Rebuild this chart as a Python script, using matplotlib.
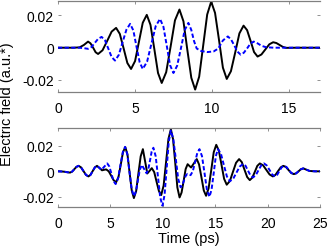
import matplotlib
matplotlib.use('Agg')
import matplotlib.pyplot as plt

plt.rcParams['font.family'] = ['Liberation Sans', 'DejaVu Sans']
plt.rcParams['axes.unicode_minus'] = False

# Top panel, values (time in ps, field in a.u.)
t_top_black = [0, 1.0, 1.4, 1.68, 1.95, 2.11, 2.28, 2.44, 2.6, 2.89, 3.19, 3.48, 3.77,
               4.01, 4.26, 4.5, 4.74, 5.0, 5.25, 5.5, 5.76, 6.0, 6.25, 6.49, 6.73,
               7.02, 7.31, 7.59, 7.88, 8.14, 8.39, 8.65, 8.9, 9.16, 9.42, 9.68, 9.94,
               10.19, 10.45, 10.7, 10.95, 11.22, 11.5, 11.77, 12.04, 12.27, 12.5, 12.72,
               12.95, 13.2, 13.46, 13.71, 13.96, 14.17, 14.38, 14.59, 14.8, 15.5, 17]
e_top_black = [0, 0, 0.0002, 0.0017, 0.0038, 0.0027, 0.0, -0.0028, -0.0039, -0.0016, 0.0042,
               0.0100, 0.0123, 0.0086, -0.0005, -0.0095, -0.0132, -0.0083, 0.0036, 0.0155,
               0.0204, 0.0142, -0.0008, -0.0157, -0.0219, -0.0152, 0.0009, 0.0170, 0.0237,
               0.0164, -0.0012, -0.0187, -0.0260, -0.0180, 0.0013, 0.0206, 0.0286, 0.0216,
               0.0046, -0.0124, -0.0194, -0.0146, -0.0029, 0.0089, 0.0137, 0.0109, 0.0041,
               -0.0027, -0.0055, -0.0042, -0.0010, 0.0021, 0.0034, 0.0029, 0.0017, 0.0005,
               -0.0001, 0, 0]

t_top_blue = [0, 1.4, 1.7, 1.95, 2.17, 2.39, 2.61, 2.83, 3.05, 3.27, 3.48, 3.7, 3.95, 4.19,
              4.44, 4.68, 4.89, 5.09, 5.3, 5.5, 5.78, 6.06, 6.34, 6.62, 6.84, 7.06, 7.27,
              7.49, 7.73, 7.98, 8.22, 8.46, 8.65, 8.83, 9.0, 9.3, 9.7, 10.1, 10.4, 10.7,
              11.02, 11.23, 11.44, 11.64, 11.85, 12.06, 12.28, 12.49, 12.7, 12.95, 13.2,
              13.5, 14, 17]
e_top_blue = [0, 0, -0.0003, -0.0007, 0.0004, 0.0030, 0.0056, 0.0067, 0.0046, -0.0007,
              -0.0058, -0.0080, -0.0044, 0.0034, 0.0112, 0.0148, 0.0107, 0.0008, -0.0091,
              -0.0132, -0.0087, 0.0024, 0.0134, 0.0179, 0.0130, 0.0011, -0.0108, -0.0157,
              -0.0112, -0.0002, 0.0109, 0.0154, 0.0110, 0.0040, -0.0005, -0.0021, -0.0027,
              -0.0023, -0.0005, 0.0045, 0.0070, 0.0051, 0.0014, -0.0024, -0.0043, -0.0031,
              -0.0003, 0.0026, 0.0038, 0.0027, 0.0012, 0.0003, 0, 0]

# Bottom panel
t_bot_black = [0, 0.3, 0.6, 0.88, 1.15, 1.35, 1.56, 1.76, 1.96, 2.2, 2.43, 2.67, 2.9, 3.1,
               3.31, 3.52, 3.72, 3.96, 4.2, 4.4, 4.6, 4.84, 5.08, 5.31, 5.55, 5.77, 5.99,
               6.2, 6.42, 6.63, 6.83, 7.04, 7.24, 7.46, 7.67, 7.89, 8.1, 8.31, 8.52, 8.74,
               8.95, 9.18, 9.4, 9.63, 9.85, 10.08, 10.31, 10.54, 10.77, 10.98, 11.19, 11.39,
               11.6, 11.79, 11.99, 12.18, 12.37, 12.53, 12.7, 12.97, 13.24, 13.46, 13.69,
               13.91, 14.13, 14.37, 14.62, 14.86, 15.1, 15.35, 15.6, 15.85, 16.1, 16.4,
               16.69, 16.99, 17.28, 17.54, 17.79, 18.05, 18.3, 18.54, 18.78, 19.02, 19.26,
               19.57, 19.88, 20.19, 20.5, 20.75, 21.0, 21.25, 21.5, 21.75, 22.0, 22.25,
               22.5, 22.72, 22.95, 23.17, 23.4, 23.7, 24.0, 24.5, 25]
e_bot_black = [0, -0.0001, -0.0003, -0.0007, -0.0010, -0.0002, 0.0017, 0.0035, 0.0043,
               0.0031, 0.0002, -0.0028, -0.0040, -0.0028, 0.0002, 0.0031, 0.0043, 0.0026,
               0.0008, 0.0012, 0.0015, 0.0, -0.0035, -0.0070, -0.0085, -0.0045, 0.0053,
               0.0150, 0.0190, 0.0132, -0.0010, -0.0152, -0.0210, -0.0154, -0.0018, 0.0118,
               0.0174, 0.0079, -0.0017, 0.0004, 0.0025, -0.0006, -0.0080, -0.0155, -0.0186,
               -0.0111, 0.0072, 0.0255, 0.0330, 0.0252, 0.0063, -0.0127, -0.0205, -0.0167,
               -0.0075, 0.0018, 0.0056, 0.0043, 0.0030, 0.0063, 0.0096, 0.0054, -0.0048,
               -0.0150, -0.0192, -0.0134, 0.0008, 0.0150, 0.0208, 0.0162, 0.0052, -0.0059,
               -0.0105, -0.0076, -0.0005, 0.0067, 0.0096, 0.0072, 0.0014, -0.0045, -0.0069,
               -0.0050, -0.0004, 0.0043, 0.0062, 0.0047, 0.0011, -0.0025, -0.0040, -0.0028,
               0.0002, 0.0031, 0.0043, 0.0034, 0.0010, -0.0013, -0.0022, -0.0016, 0.0,
               0.0016, 0.0023, 0.0013, 0.0003, 0, 0]

t_bot_blue = [0, 0.3, 0.6, 0.88, 1.15, 1.35, 1.56, 1.76, 1.96, 2.2, 2.43, 2.67, 2.9, 3.1,
              3.31, 3.52, 3.72, 3.94, 4.15, 4.42, 4.7, 4.9, 5.1, 5.3, 5.5, 5.73, 5.95,
              6.18, 6.4, 6.61, 6.82, 7.03, 7.24, 7.43, 7.62, 7.81, 8.0, 8.22, 8.45, 8.61,
              8.78, 8.94, 9.1, 9.32, 9.54, 9.75, 9.97, 10.17, 10.37, 10.57, 10.77, 11.0,
              11.24, 11.47, 11.7, 11.86, 12.02, 12.19, 12.35, 12.65, 12.86, 13.08, 13.29,
              13.5, 13.74, 13.98, 14.21, 14.45, 14.65, 14.86, 15.06, 15.26, 15.55, 15.83,
              16.12, 16.4, 16.72, 17.03, 17.35, 17.66, 17.9, 18.13, 18.37, 18.6, 18.86,
              19.12, 19.39, 19.65, 19.91, 20.18, 20.44, 20.7, 20.91, 21.12, 21.34, 21.55,
              21.8, 22.03, 22.27, 22.5, 22.72, 22.95, 23.17, 23.4, 23.7, 24.0, 24.5, 25]
e_bot_blue = [0, -0.0001, -0.0003, -0.0007, -0.0010, -0.0002, 0.0017, 0.0035, 0.0043,
              0.0031, 0.0002, -0.0028, -0.0040, -0.0028, 0.0002, 0.0031, 0.0043, 0.0028,
              0.0012, 0.0037, 0.0062, 0.0038, -0.0019, -0.0076, -0.0100, -0.0057, 0.0046,
              0.0149, 0.0192, 0.0136, -0.0002, -0.0139, -0.0195, -0.0159, -0.0073, 0.0014,
              0.0050, 0.0018, -0.0015, 0.0014, 0.0085, 0.0156, 0.0185, 0.0119, -0.0043,
              -0.0204, -0.0270, -0.0184, 0.0025, 0.0234, 0.0320, 0.0255, 0.0098, -0.0060,
              -0.0125, -0.0110, -0.0072, -0.0035, -0.0020, -0.0030, 0.0, 0.0072, 0.0144,
              0.0174, 0.0119, -0.0013, -0.0145, -0.0200, -0.0145, -0.0013, 0.0119, 0.0174,
              0.0137, 0.0048, -0.0041, -0.0078, -0.0058, -0.0010, 0.0038, 0.0058, 0.0043,
              0.0005, -0.0033, -0.0048, -0.0032, 0.0007, 0.0046, 0.0062, 0.0047, 0.0011,
              -0.0025, -0.0040, -0.0028, 0.0002, 0.0031, 0.0043, 0.0034, 0.0010, -0.0013,
              -0.0022, -0.0016, 0.0, 0.0016, 0.0023, 0.0013, 0.0003, 0, 0]

y_ticks = [-0.02, 0, 0.02]
y_labels = ['-0.02', '0', '0.02']

fig = plt.figure(figsize=(3.3, 2.51), dpi=100)
ax1 = fig.add_axes([58/330, 1 - 93/251, 262/330, 91/251])
ax2 = fig.add_axes([58/330, 1 - 208/251, 262/330, 79/251])

panels = [(ax1, t_top_black, e_top_black, t_top_blue, e_top_blue, 17, (-0.0275, 0.029), [0, 5, 10, 15]),
          (ax2, t_bot_black, e_bot_black, t_bot_blue, e_bot_blue, 25, (-0.028, 0.034), [0, 5, 10, 15, 20, 25])]

for ax, tb, eb, tbl, ebl, xmax, ylim, xt in panels:
    ax.plot(tb, eb, color='black', lw=1.4, solid_joinstyle='round')
    ax.plot(tbl, ebl, color='blue', lw=1.4, dashes=(2.2, 1.2))
    ax.set_xlim(0, xmax)
    ax.set_ylim(*ylim)
    ax.set_xticks(xt)
    ax.set_yticks(y_ticks)
    ax.set_yticklabels(y_labels)
    for side in ['left', 'right']:
        ax.spines[side].set_visible(False)
    for side in ['top', 'bottom']:
        ax.spines[side].set_color('#808080')
        ax.spines[side].set_linewidth(0.9)
    ax.tick_params(direction='in', length=2.5, width=0.6, color='#808080',
                   labelsize=10, top=True, right=True)
    ax.tick_params(axis='x', pad=6.5)
    ax.tick_params(axis='y', pad=3)

ax2.set_xlabel('Time (ps)', fontsize=10.5, labelpad=1)
fig.text(0.022, 1 - 104/251, 'Electric field (a.u.*)', rotation=90, fontsize=10.5,
         ha='center', va='center')

plt.savefig('out.png', dpi=100)
